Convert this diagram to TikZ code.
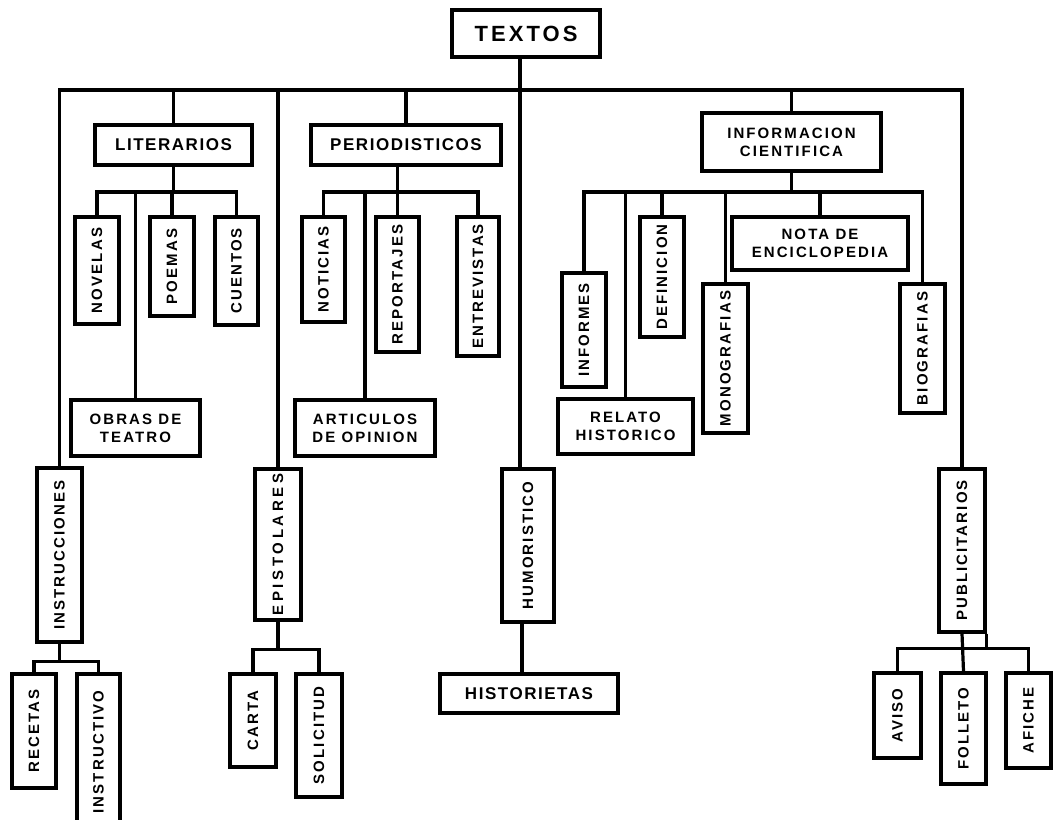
\documentclass[tikz,border=0pt]{standalone}
\usepackage{fontspec}
\setmainfont{Liberation Sans}
\newfontfamily\labelfont[LetterSpace=14]{Liberation Sans}
\newfontfamily\headfont[LetterSpace=9]{Liberation Sans}
\newfontfamily\widefont[LetterSpace=24]{Liberation Sans}
\usetikzlibrary{positioning,calc}

\newcommand{\vtext}[1]{\rotatebox{90}{#1}}

\tikzset{
  box/.style={draw, line width=3.2pt, inner sep=0pt, align=center,
    font=\headfont\bfseries\fontsize{17}{19}\selectfont},
  twobox/.style={box, font=\labelfont\bfseries\fontsize{15}{18}\selectfont},
  vbox/.style={box, font=\labelfont\bfseries\fontsize{15}{17}\selectfont},
  link/.style={line width=3.2pt},
}

\begin{document}
\begin{tikzpicture}[x=1pt, y=-1pt]
  \useasboundingbox (0,0) rectangle (1054,819);

  % Root
  \node[box, minimum width=148pt, minimum height=47pt,
    font=\labelfont\bfseries\fontsize{22}{24}\selectfont] (textos) at (526,33.5) {TEXTOS};

  % Second level
  \node[box, minimum width=157pt, minimum height=40pt] (lit) at (173.5,145) {LITERARIOS};
  \node[box, minimum width=190pt, minimum height=40pt] (perio) at (406,145) {PERIODISTICOS};
  \node[twobox, minimum width=179pt, minimum height=58pt] (info) at (791.5,142) {INFORMACION\\CIENTIFICA};
  \node[vbox, minimum width=45pt, minimum height=174pt] (instr) at (59.5,555) {\vtext{INSTRUCCIONES}};
  \node[vbox, minimum width=46pt, minimum height=151pt,
    font=\widefont\bfseries\fontsize{15}{17}\selectfont] (epist) at (278,544.5) {\vtext{EPISTOLARES}};
  \node[vbox, minimum width=52pt, minimum height=153pt] (humor) at (528,545.5) {\vtext{HUMORISTICO}};
  \node[vbox, minimum width=46pt, minimum height=163pt] (pub) at (962,550.5) {\vtext{PUBLICITARIOS}};

  % Literarios
  \node[vbox, minimum width=44pt, minimum height=107pt] (novelas) at (97,270.5) {\vtext{NOVELAS}};
  \node[vbox, minimum width=44pt, minimum height=99pt] (poemas) at (172,266.5) {\vtext{POEMAS}};
  \node[vbox, minimum width=43pt, minimum height=108pt] (cuentos) at (236.5,271) {\vtext{CUENTOS}};
  \node[twobox, minimum width=129pt, minimum height=56pt] (obras) at (135.5,428) {OBRAS DE\\TEATRO};

  % Periodisticos
  \node[vbox, minimum width=43pt, minimum height=105pt] (noticias) at (323.5,269.5) {\vtext{NOTICIAS}};
  \node[vbox, minimum width=43pt, minimum height=135pt] (reportajes) at (397.5,284.5) {\vtext{REPORTAJES}};
  \node[vbox, minimum width=42pt, minimum height=139pt] (entrevistas) at (478,286.5) {\vtext{ENTREVISTAS}};
  \node[twobox, minimum width=140pt, minimum height=56pt] (articulos) at (365,428) {ARTICULOS\\DE OPINION};

  % Informacion cientifica
  \node[vbox, minimum width=44pt, minimum height=114pt] (informes) at (584,330) {\vtext{INFORMES}};
  \node[vbox, minimum width=44pt, minimum height=120pt] (definicion) at (662,277) {\vtext{DEFINICION}};
  \node[vbox, minimum width=45pt, minimum height=149pt] (monografias) at (725.5,358.5) {\vtext{MONOGRAFIAS}};
  \node[twobox, minimum width=176pt, minimum height=53pt] (nota) at (820,243.5) {NOTA DE\\ENCICLOPEDIA};
  \node[vbox, minimum width=45pt, minimum height=129pt] (biografias) at (922.5,348.5) {\vtext{BIOGRAFIAS}};
  \node[twobox, minimum width=135pt, minimum height=55pt] (relato) at (625.5,426.5) {RELATO\\HISTORICO};

  % Third level, bottom row
  \node[vbox, minimum width=44pt, minimum height=114pt] (recetas) at (34,731) {\vtext{RECETAS}};
  \node[vbox, minimum width=43pt, minimum height=156pt] (instructivo) at (98.5,752) {\vtext{INSTRUCTIVO}};
  \node[vbox, minimum width=46pt, minimum height=93pt] (carta) at (253,720.5) {\vtext{CARTA}};
  \node[vbox, minimum width=46pt, minimum height=123pt] (solicitud) at (319,735.5) {\vtext{SOLICITUD}};
  \node[box, minimum width=178pt, minimum height=39pt] (historietas) at (529,693.5) {HISTORIETAS};
  \node[vbox, minimum width=47pt, minimum height=85pt] (aviso) at (897.5,715.5) {\vtext{AVISO}};
  \node[vbox, minimum width=45pt, minimum height=111pt] (folleto) at (963.5,728.5) {\vtext{FOLLETO}};
  \node[vbox, minimum width=45pt, minimum height=95pt] (afiche) at (1028.5,720.5) {\vtext{AFICHE}};

  % Bus levels
  \coordinate (topbus) at (0,90);
  \coordinate (midbus) at (0,192);

  % Main tree
  \draw[link] ([xshift=-6pt]textos.south) -- ([xshift=-6pt]textos.south |- humor.north);
  \draw[link] (instr.north) -- (instr.north |- topbus) -- (pub.north |- topbus) -- (pub.north);
  \draw[link] (lit.north) -- (lit.north |- topbus);
  \draw[link] (epist.north) -- (epist.north |- topbus);
  \draw[link] (perio.north) -- (perio.north |- topbus);
  \draw[link] (info.north) -- (info.north |- topbus);

  % Literarios branches
  \draw[link] (lit.south) -- (lit.south |- midbus);
  \draw[link] (novelas.north) -- (novelas.north |- midbus) -- (cuentos.north |- midbus) -- (cuentos.north);
  \draw[link] (poemas.north) -- (poemas.north |- midbus);
  \draw[link] (obras.north) -- (obras.north |- midbus);

  % Periodisticos branches
  \draw[link] (perio.south -| reportajes.north) -- (reportajes.north);
  \draw[link] (noticias.north) -- (noticias.north |- midbus) -- (entrevistas.north |- midbus) -- (entrevistas.north);
  \draw[link] (articulos.north) -- (articulos.north |- midbus);

  % Informacion cientifica branches
  \draw[link] (info.south) -- (info.south |- midbus);
  \draw[link] (informes.north) -- (informes.north |- midbus) -- (biografias.north |- midbus) -- (biografias.north);
  \draw[link] (relato.north) -- (relato.north |- midbus);
  \draw[link] (definicion.north) -- (definicion.north |- midbus);
  \draw[link] (monografias.north) -- (monografias.north |- midbus);
  \draw[link] (nota.north) -- (nota.north |- midbus);

  % Bottom branches
  \draw[link] (instr.south) -- ++(0,18) coordinate (ibus);
  \draw[link] (recetas.north) -- (recetas.north |- ibus) -- (instructivo.north |- ibus) -- (instructivo.north);
  \draw[link] (epist.south) -- ++(0,28) coordinate (ebus);
  \draw[link] (carta.north) -- (carta.north |- ebus) -- (solicitud.north |- ebus) -- (solicitud.north);
  \draw[link] ([xshift=-6pt]humor.south) -- ([xshift=-6pt]humor.south |- historietas.north);
  \draw[link] (pub.south east) -- ++(0,15) coordinate (pbus);
  \draw[link] (aviso.north) -- (aviso.north |- pbus) -- (afiche.north |- pbus) -- (afiche.north);
  \draw[link] (pub.south) -- (folleto.north);
\end{tikzpicture}
\end{document}
